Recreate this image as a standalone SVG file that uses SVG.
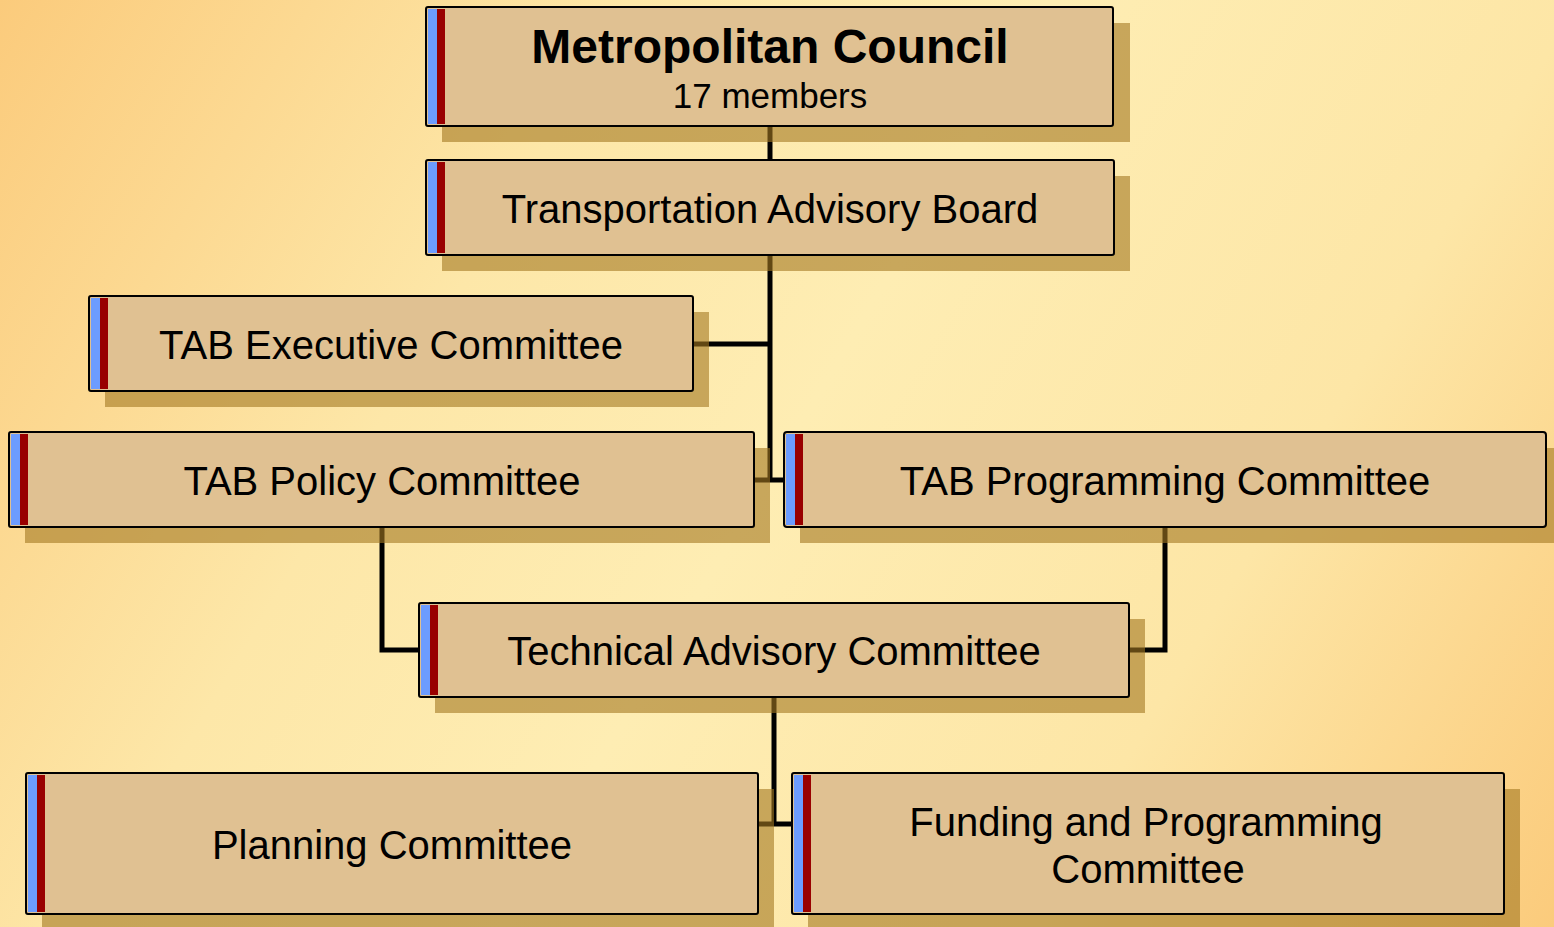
<svg xmlns="http://www.w3.org/2000/svg" width="1554" height="927" viewBox="0 0 1554 927">
<defs>
<linearGradient id="bg" x1="0" y1="0" x2="1554" y2="927" gradientUnits="userSpaceOnUse">
<stop offset="0" stop-color="#FBCB7C"/>
<stop offset="0.3" stop-color="#FDE7A8"/>
<stop offset="0.5" stop-color="#FEEDB3"/>
<stop offset="0.75" stop-color="#FDE6A6"/>
<stop offset="1" stop-color="#FBCB7C"/>
</linearGradient>
<style>
.sh{fill:#A47821;fill-opacity:0.6}
.box{fill:#E0C192;stroke:#000;stroke-width:2}
.b{fill:#6C9CFF}
.r{fill:#990000}
.t{font-family:"Liberation Sans",Arial,sans-serif;font-size:40px;fill:#000;text-anchor:middle}
.con{fill:none;stroke:#000;stroke-width:5}
</style>
</defs>
<rect width="1554" height="927" fill="url(#bg)"/>
<g id="connectors" class="con">
<path d="M770 126V160"/>
<path d="M770 255V480"/>
<path d="M693 344H770"/>
<path d="M754 480H784"/>
<path d="M382 527V650H419"/>
<path d="M1165 527V650H1129"/>
<path d="M774 697V824"/>
<path d="M758 824H792"/>
</g>
<g id="metro">
<rect class="sh" x="442" y="23" width="688" height="119"/>
<rect class="box" x="426" y="7" width="687" height="119" rx="2"/>
<rect class="b" x="428" y="9" width="9" height="115"/>
<rect class="r" x="437" y="9" width="8" height="115"/>
<text class="t" x="770" y="63" style="font-weight:bold;font-size:48px">Metropolitan Council</text>
<text class="t" x="770" y="108" style="font-size:35px">17 members</text>
</g>
<g id="tab">
<rect class="sh" x="442" y="176" width="688" height="95"/>
<rect class="box" x="426" y="160" width="688" height="95" rx="2"/>
<rect class="b" x="428" y="162" width="9" height="91"/>
<rect class="r" x="437" y="162" width="8" height="91"/>
<text class="t" x="770" y="223">Transportation Advisory Board</text>
</g>
<g id="exec">
<rect class="sh" x="105" y="312" width="604" height="95"/>
<rect class="box" x="89" y="296" width="604" height="95" rx="2"/>
<rect class="b" x="91" y="298" width="9" height="91"/>
<rect class="r" x="100" y="298" width="8" height="91"/>
<text class="t" x="391" y="359">TAB Executive Committee</text>
</g>
<g id="policy">
<rect class="sh" x="25" y="448" width="745" height="95"/>
<rect class="box" x="9" y="432" width="745" height="95" rx="2"/>
<rect class="b" x="11" y="434" width="9" height="91"/>
<rect class="r" x="20" y="434" width="8" height="91"/>
<text class="t" x="382" y="495">TAB Policy Committee</text>
</g>
<g id="programming">
<rect class="sh" x="800" y="448" width="762" height="95"/>
<rect class="box" x="784" y="432" width="762" height="95" rx="3"/>
<rect class="b" x="786" y="434" width="9" height="91"/>
<rect class="r" x="795" y="434" width="8" height="91"/>
<text class="t" x="1165" y="495">TAB Programming Committee</text>
</g>
<g id="tac">
<rect class="sh" x="435" y="619" width="710" height="94"/>
<rect class="box" x="419" y="603" width="710" height="94" rx="2"/>
<rect class="b" x="421" y="605" width="9" height="90"/>
<rect class="r" x="430" y="605" width="8" height="90"/>
<text class="t" x="774" y="665">Technical Advisory Committee</text>
</g>
<g id="planning">
<rect class="sh" x="42" y="789" width="732" height="141"/>
<rect class="box" x="26" y="773" width="732" height="141" rx="2"/>
<rect class="b" x="28" y="775" width="9" height="137"/>
<rect class="r" x="37" y="775" width="8" height="137"/>
<text class="t" x="392" y="859">Planning Committee</text>
</g>
<g id="funding">
<rect class="sh" x="808" y="789" width="712" height="141"/>
<rect class="box" x="792" y="773" width="712" height="141" rx="2"/>
<rect class="b" x="794" y="775" width="9" height="137"/>
<rect class="r" x="803" y="775" width="8" height="137"/>
<text class="t" x="1146" y="836">Funding and Programming</text>
<text class="t" x="1148" y="883">Committee</text>
</g>
</svg>
